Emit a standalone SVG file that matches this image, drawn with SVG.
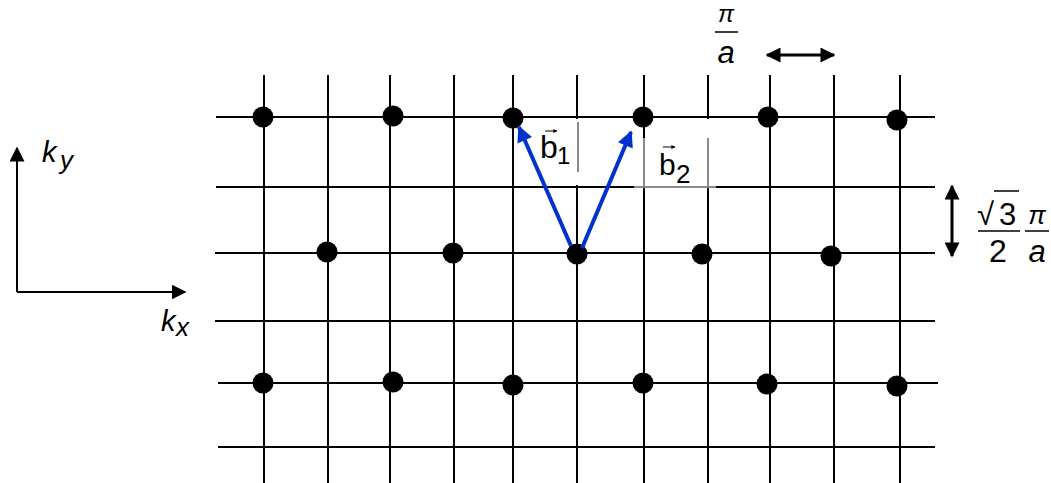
<svg xmlns="http://www.w3.org/2000/svg" width="1051" height="483" viewBox="0 0 1051 483">
<style>
.g{stroke:#000;stroke-width:2;fill:none}
.gray{stroke:#8a8a8a;stroke-width:2;fill:none}
.dot{fill:#000}
.vec{stroke:#0033cc;stroke-width:4;fill:none}
.ax{stroke:#000;stroke-width:2;fill:none}
.dim{stroke:#000;stroke-width:3;fill:none}
.t{font-family:"Liberation Sans",Arial,sans-serif;fill:#000}
.i{font-style:italic}
.pi{font-family:"Liberation Sans",Arial,sans-serif;font-style:italic;fill:#000}
</style>
<defs>
<marker id="bh" viewBox="0 0 10 10" refX="9" refY="5" markerWidth="4.5" markerHeight="4" orient="auto" markerUnits="strokeWidth">
<path d="M0,0 L10,5 L0,10 z" fill="#0033cc"/>
</marker>
<marker id="kh" viewBox="0 0 10 10" refX="9" refY="5" markerWidth="7.5" markerHeight="7.5" orient="auto" markerUnits="strokeWidth">
<path d="M0,0 L10,5 L0,10 z" fill="#000"/>
</marker>
<marker id="dh" viewBox="0 0 10 10" refX="9" refY="5" markerWidth="5.5" markerHeight="5" orient="auto-start-reverse" markerUnits="strokeWidth">
<path d="M0,0 L10,5 L0,10 z" fill="#000"/>
</marker>
<marker id="sh" viewBox="0 0 10 10" refX="9" refY="5" markerWidth="4" markerHeight="4" orient="auto" markerUnits="strokeWidth">
<path d="M0,0 L10,5 L0,10 z" fill="#000"/>
</marker>
</defs>
<g id="grid">
<line class="g" x1="216" y1="117" x2="935" y2="117"/>
<line class="g" x1="216" y1="187" x2="935" y2="187"/>
<line class="g" x1="215" y1="253" x2="935" y2="253"/>
<line class="g" x1="215" y1="321" x2="935" y2="321"/>
<line class="g" x1="218" y1="383" x2="938" y2="383"/>
<line class="g" x1="218" y1="447" x2="935" y2="447"/>
<line class="g" x1="264" y1="75" x2="264" y2="483"/>
<line class="g" x1="328" y1="75" x2="328" y2="483"/>
<line class="g" x1="390" y1="75" x2="390" y2="483"/>
<line class="g" x1="454" y1="75" x2="454" y2="483"/>
<line class="g" x1="513" y1="75" x2="513" y2="483"/>
<line class="g" x1="577" y1="75" x2="577" y2="483"/>
<line class="g" x1="644" y1="75" x2="644" y2="483"/>
<line class="g" x1="708" y1="75" x2="708" y2="483"/>
<line class="g" x1="770" y1="75" x2="770" y2="483"/>
<line class="g" x1="834" y1="75" x2="834" y2="483"/>
<line class="g" x1="900" y1="75" x2="900" y2="483"/>
</g>
<g id="label-boxes">
<rect x="536" y="119" width="43" height="66" fill="#fff"/>
<line class="gray" x1="578" y1="122" x2="578" y2="172"/>
<rect x="634" y="119" width="82" height="67" fill="#fff"/>
<line class="g" x1="644" y1="117" x2="644" y2="138"/>
<line class="gray" x1="644" y1="138" x2="644" y2="187"/>
<line class="gray" x1="708" y1="138" x2="708" y2="187"/>
<line class="gray" x1="634" y1="187" x2="716" y2="187"/>
</g>
<g id="points">
<circle class="dot" cx="263" cy="117" r="10.5"/>
<circle class="dot" cx="393" cy="116" r="10.5"/>
<circle class="dot" cx="513" cy="118" r="10.5"/>
<circle class="dot" cx="643" cy="117" r="10.5"/>
<circle class="dot" cx="768" cy="117" r="10.5"/>
<circle class="dot" cx="897" cy="120" r="10.5"/>
<circle class="dot" cx="327" cy="252" r="10.5"/>
<circle class="dot" cx="453" cy="253" r="10.5"/>
<circle class="dot" cx="577" cy="254" r="10.5"/>
<circle class="dot" cx="702" cy="254" r="10.5"/>
<circle class="dot" cx="831" cy="256" r="10.5"/>
<circle class="dot" cx="263" cy="383" r="10.5"/>
<circle class="dot" cx="393" cy="382" r="10.5"/>
<circle class="dot" cx="513" cy="385" r="10.5"/>
<circle class="dot" cx="643" cy="383" r="10.5"/>
<circle class="dot" cx="767" cy="384" r="10.5"/>
<circle class="dot" cx="897" cy="386" r="10.5"/>
</g>
<g id="connectors">
<line class="vec" x1="571" y1="246" x2="519" y2="127" marker-end="url(#bh)"/>
<line class="vec" x1="582" y1="248" x2="631" y2="132" marker-end="url(#bh)"/>
<line class="ax" x1="17" y1="292" x2="17" y2="148" marker-end="url(#kh)"/>
<line class="ax" x1="17" y1="292" x2="185" y2="292" marker-end="url(#kh)"/>
<line class="dim" x1="767" y1="55" x2="834" y2="55" marker-start="url(#dh)" marker-end="url(#dh)"/>
<line class="dim" x1="952" y1="186" x2="952" y2="256" marker-start="url(#dh)" marker-end="url(#dh)"/>
</g>
<g id="labels">
<text class="t i" x="42" y="162" font-size="29">k</text>
<text class="t i" x="60" y="169" font-size="26">y</text>
<text class="t i" x="161" y="331" font-size="29">k</text>
<text class="t i" x="176" y="336" font-size="26">x</text>
<text class="pi" x="726" y="22" font-size="24" text-anchor="middle">π</text>
<line x1="715" y1="32" x2="738" y2="32" stroke="#000" stroke-width="1.5"/>
<text class="t i" x="726" y="63" font-size="31" text-anchor="middle">a</text>
<text class="t" x="977" y="225" font-size="31">√</text>
<line x1="994" y1="191" x2="1019" y2="191" stroke="#000" stroke-width="1.5"/>
<text class="t" x="999" y="225" font-size="31">3</text>
<line x1="978" y1="231" x2="1020" y2="231" stroke="#000" stroke-width="1.5"/>
<text class="t" x="998" y="262" font-size="32" text-anchor="middle">2</text>
<text class="pi" x="1037" y="224" font-size="26" text-anchor="middle">π</text>
<line x1="1025" y1="231" x2="1049" y2="231" stroke="#000" stroke-width="1.5"/>
<text class="t i" x="1037" y="262" font-size="31" text-anchor="middle">a</text>
<text class="t" x="540" y="158" font-size="32">b</text>
<line x1="545" y1="131" x2="557" y2="131" stroke="#000" stroke-width="1" marker-end="url(#sh)"/>
<text class="t" x="557" y="164" font-size="24">1</text>
<text class="t" x="659" y="175" font-size="30">b</text>
<line x1="663" y1="147" x2="675" y2="147" stroke="#000" stroke-width="1" marker-end="url(#sh)"/>
<text class="t" x="676" y="183" font-size="26">2</text>
</g>
</svg>
